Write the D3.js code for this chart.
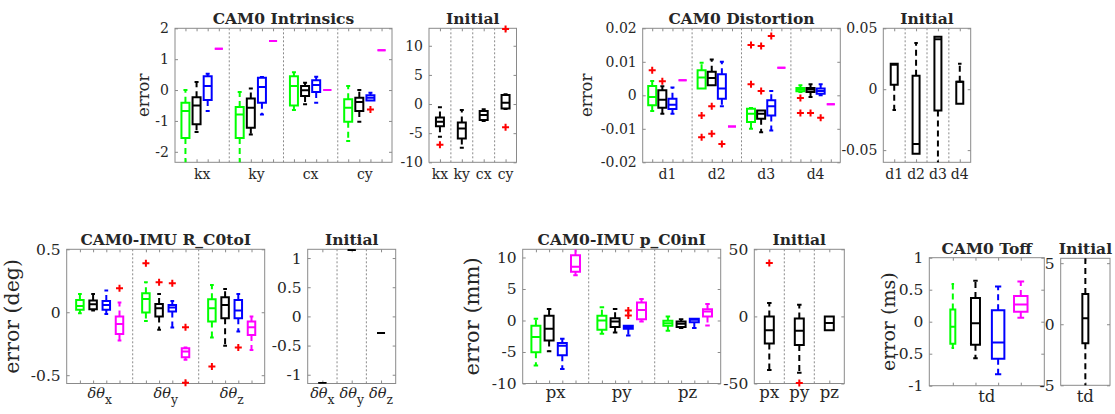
<!DOCTYPE html>
<html>
<head>
<meta charset="utf-8">
<script src="https://cdn.jsdelivr.net/npm/d3@7"></script>
<style>
body { margin: 0; background: #fff; }
svg text { font-family: "DejaVu Serif", serif; fill: #262626; }
</style>
</head>
<body>
<svg width="1115" height="414"></svg>
<script>
// every box is [lower whisker, q1, median, q3, upper whisker]
// outliers are [series index, category index, value]

let intrCats = ['kx', 'ky', 'cx', 'cy'];
let intrGreen = [[-2.6, -1.55, -0.68, -0.41, 0.0], [-2.5, -1.55, -0.79, -0.55, -0.06], [-0.65, -0.5, 0.13, 0.45, 0.58], [-1.65, -1.03, -0.57, -0.3, 0.13]];
let intrBlack = [[-1.36, -1.11, -0.5, -0.23, 0.26], [-1.44, -1.22, -0.57, -0.27, 0.05], [-0.46, -0.19, -0.01, 0.13, 0.24], [-1.03, -0.68, -0.39, -0.25, 0.0]];
let intrBlue = [[-0.68, -0.32, 0.13, 0.45, 0.53], [-0.79, -0.41, 0.1, 0.4, 0.42], [-0.41, -0.06, 0.16, 0.32, 0.43], [-0.34, -0.34, -0.25, -0.17, -0.09]];
let intrMagenta = [[1.34, 1.34, 1.34, 1.34, 1.34], [1.59, 1.59, 1.59, 1.59, 1.59], [0, 0, 0, 0, 0], [1.29, 1.29, 1.29, 1.29, 1.29]];
let intrOutliers = [[2, 3, -0.63]];
let intrTicks = [-2, -1, 0, 1, 2];

let intrInit = [[-5.6, -3.8, -3.05, -2.3, -0.57], [-7.5, -5.9, -4.2, -3.16, -1.03], [-2.9, -2.76, -1.9, -1.2, -0.9], [-0.86, -0.75, 0.2, 1.55, 1.67]];
let intrInitOutliers = [[0, 0, -7.0], [0, 3, 12.9], [0, 3, -4.0]];
let intrInitTicks = [-10, -5, 0, 5, 10];

let distCats = ['d1', 'd2', 'd3', 'd4'];
let distGreen = [[-0.0047, -0.003, -0.0005, 0.0028, 0.0043], [0.002, 0.002, 0.0053, 0.0075, 0.0097], [-0.01, -0.008, -0.0055, -0.004, -0.0038], [0.001, 0.0012, 0.0017, 0.0022, 0.003]];
let distBlack = [[-0.0055, -0.0037, -0.0013, 0.0015, 0.0027], [0.003, 0.003, 0.0052, 0.007, 0.0107], [-0.011, -0.007, -0.0055, -0.0045, -0.0045], [-0.0005, 0.001, 0.0017, 0.0022, 0.0033]];
let distBlue = [[-0.0055, -0.0041, -0.0028, -0.001, 0.0023], [-0.0033, -0.001, 0.002, 0.0063, 0.01], [-0.0105, -0.006, -0.0033, -0.0015, 0.0013], [0, 0.0005, 0.0013, 0.002, 0.0033]];
let distMagenta = [[0.0045, 0.0045, 0.0045, 0.0045, 0.0045], [-0.0093, -0.0093, -0.0093, -0.0093, -0.0093], [0.0082, 0.0082, 0.0082, 0.0082, 0.0082], [-0.0027, -0.0027, -0.0027, -0.0027, -0.0027]];
let distOutliers = [
  [0, 0, 0.0075], [0, 1, -0.006], [0, 1, -0.0125], [0, 2, 0.015], [0, 2, 0.0033], [0, 3, -0.0008], [0, 3, -0.0053],
  [1, 0, 0.0042], [1, 1, -0.0033], [1, 1, -0.0115], [1, 2, 0.0147], [1, 2, 0.0013], [1, 3, -0.0053],
  [2, 1, -0.0145], [2, 2, 0.0177], [2, 3, -0.0067]
];
let distTicks = [-0.02, -0.01, 0, 0.01, 0.02];

let distInit = [[-0.017, 0.0036, 0.02, 0.021, 0.021], [-0.053, -0.053, -0.045, 0.011, 0.038], [-0.07, -0.0175, 0.041, 0.043, 0.043], [-0.012, -0.012, 0.0062, 0.0062, 0.021]];
let distInitTicks = [-0.05, 0, 0.05];

let rotCats = ['x', 'y', 'z'];
let rotGreen = [[-0.008, 0.019, 0.05, 0.098, 0.145], [-0.069, -0.003, 0.106, 0.15, 0.238], [-0.2, -0.074, 0.032, 0.103, 0.217]];
let rotBlack = [[0.013, 0.024, 0.063, 0.093, 0.145], [-0.14, -0.034, 0.032, 0.066, 0.145], [-0.267, -0.048, 0.058, 0.119, 0.185]];
let rotBlue = [[-0.013, 0.019, 0.058, 0.09, 0.172], [-0.122, 0.005, 0.037, 0.058, 0.09], [-0.153, -0.048, 0.013, 0.098, 0.145]];
let rotMagenta = [[-0.225, -0.172, -0.093, -0.034, 0.077], [-0.378, -0.357, -0.312, -0.286, -0.28], [-0.3, -0.18, -0.119, -0.074, -0.034]];
let rotOutliers = [[0, 1, 0.389], [0, 2, -0.431], [1, 1, 0.238], [2, 1, 0.23], [2, 2, -0.28], [3, 0, 0.19], [3, 1, -0.119], [3, 1, -0.56]];
let rotTicks = [-0.5, 0, 0.5];

let rotInit = [[-1.14, -1.14, -1.14, -1.14, -1.14], [1.14, 1.14, 1.14, 1.14, 1.14], [-0.284, -0.284, -0.284, -0.284, -0.284]];
let rotInitTicks = [-1, -0.5, 0, 0.5, 1];

let posCats = ['px', 'py', 'pz'];
let posGreen = [[-7.16, -5.05, -2.63, -0.84, 0.26], [-2.1, -1.47, 0, 0.74, 2.1], [-1.63, -0.84, -0.42, -0.05, 0.63]];
let posBlack = [[-4.9, -3.16, -1.32, 0.74, 1.84], [-1.9, -1.05, -0.16, 0.37, 1.84], [-1.2, -1.05, -0.53, -0.16, 0.21]];
let posBlue = [[-7.7, -5.53, -4.0, -3.58, -2.9], [-2.37, -1.32, -1.05, -0.84, -0.84], [-1.2, -0.26, 0.1, 0.26, 0.26]];
let posMagenta = [[7.2, 7.74, 8.53, 10.37, 11.8], [-0.16, 0.21, 1.68, 2.84, 3.42], [-0.79, 0.63, 1.42, 1.79, 2.63]];
let posOutliers = [[2, 1, 1.6], [2, 1, 0.8]];
let posTicks = [-10, -5, 0, 5, 10];

let posInit = [[-40, -20.25, -10.25, 0, 10], [-42, -21.25, -10.75, -1.5, 8.75], [-10.25, -10.25, -5, 0, 0]];
let posInitOutliers = [[0, 0, 39.75], [0, 1, -49.6]];
let posInitTicks = [-50, 0, 50];

let toffCats = ['td'];
let toffGreen = [[-0.41, -0.345, -0.077, 0.19, 0.59]];
let toffBlack = [[-0.57, -0.36, -0.026, 0.37, 0.64]];
let toffBlue = [[-0.82, -0.58, -0.325, 0.18, 0.55]];
let toffMagenta = [[0.06, 0.155, 0.27, 0.4, 0.63]];
let toffTicks = [-1, -0.5, 0, 0.5, 1];

let toffInit = [[-5.2, -1.56, 0.49, 2.48, 5.6]];
let toffInitTicks = [-5, 0, 5];

const GREEN = '#00ff00', BLACK = '#000000', BLUE = '#0000ff', MAGENTA = '#ff00ff';

let svg = d3.select('svg');

function drawPanel(p) {
  let n = p.cats.length, ns = p.series.length;
  let x = d3.scaleLinear().domain([0, n]).range([p.left, p.right]);
  let y = d3.scaleLinear().domain(p.ylim).range([p.bottom, p.top]);
  let at = (ci, si) => ci + 0.5 + (si - (ns - 1) / 2) * p.step;

  let g = svg.append('g');
  let clipId = 'clip' + Math.round(p.left);
  g.append('clipPath').attr('id', clipId)
    .append('rect')
    .attr('x', p.left).attr('y', p.top)
    .attr('width', p.right - p.left).attr('height', p.bottom - p.top);

  // group separators
  for (let i = 1; i < n; i++) {
    g.append('line')
      .attr('x1', x(i)).attr('x2', x(i))
      .attr('y1', p.top).attr('y2', p.bottom)
      .attr('stroke', '#8a8a8a').attr('stroke-width', 1)
      .attr('stroke-dasharray', '2,2');
  }

  let boxTicks = [];
  p.cats.forEach((c, ci) => p.series.forEach((s, si) => boxTicks.push(at(ci, si))));

  let axes = [
    d3.axisBottom(x).tickValues(boxTicks).tickFormat(''),
    d3.axisTop(x).tickValues(boxTicks).tickFormat(''),
    d3.axisLeft(y).tickValues(p.yticks).tickFormat(d => String(d)),
    d3.axisRight(y).tickValues(p.yticks).tickFormat('')
  ];
  let tr = ['translate(0,' + p.bottom + ')', 'translate(0,' + p.top + ')',
            'translate(' + p.left + ',0)', 'translate(' + p.right + ',0)'];
  axes.forEach((ax, i) => {
    let a = g.append('g').attr('transform', tr[i])
      .call(ax.tickSizeInner(-3).tickSizeOuter(0).tickPadding(6));
    a.select('.domain').remove();
    a.selectAll('line').attr('stroke', '#8a8a8a');
    a.selectAll('text').attr('font-family', '"DejaVu Serif", serif')
      .attr('font-size', p.tickSize).attr('fill', '#262626');
  });

  g.append('rect')
    .attr('x', p.left).attr('y', p.top)
    .attr('width', p.right - p.left).attr('height', p.bottom - p.top)
    .attr('fill', 'none').attr('stroke', '#8a8a8a').attr('stroke-width', 1);

  let marks = g.append('g').attr('clip-path', 'url(#' + clipId + ')');
  p.series.forEach((s, si) => {
    s.stats.forEach((b, ci) => {
      let cx = x(at(ci, si));
      let w = Array.isArray(p.boxW) ? p.boxW[si] : p.boxW;
      let [lo, q1, med, q3, hi] = b;
      // whiskers
      [[q3, hi], [q1, lo]].forEach(([from, to]) => {
        if (from === to) return;
        marks.append('line')
          .attr('x1', cx).attr('x2', cx)
          .attr('y1', y(from)).attr('y2', y(to))
          .attr('stroke', s.color).attr('stroke-width', 2)
          .attr('stroke-dasharray', '6,4');
        marks.append('line')
          .attr('x1', cx - w / 4).attr('x2', cx + w / 4)
          .attr('y1', y(to)).attr('y2', y(to))
          .attr('stroke', s.color).attr('stroke-width', 2);
      });
      // box and median
      marks.append('path')
        .attr('d', 'M' + (cx - w / 2) + ',' + y(q1) + 'H' + (cx + w / 2) + 'V' + y(q3) + 'H' + (cx - w / 2) + 'Z')
        .attr('fill', 'none').attr('stroke', s.color).attr('stroke-width', 2);
      marks.append('line')
        .attr('x1', cx - w / 2).attr('x2', cx + w / 2)
        .attr('y1', y(med)).attr('y2', y(med))
        .attr('stroke', s.color).attr('stroke-width', 2);
    });
  });

  // outliers (not clipped, like matlab markers)
  (p.outliers || []).forEach(([si, ci, v]) => {
    let cx = x(at(ci, si)), cy = y(v);
    g.append('path')
      .attr('d', 'M' + (cx - 3.5) + ',' + cy + 'H' + (cx + 3.5) + 'M' + cx + ',' + (cy - 3.5) + 'V' + (cy + 3.5))
      .attr('stroke', '#ff0000').attr('stroke-width', 2);
  });

  // category labels
  p.cats.forEach((c, ci) => {
    let t = g.append('text')
      .attr('x', x(ci + 0.5)).attr('y', p.bottom + p.catDy)
      .attr('text-anchor', 'middle').attr('font-size', p.catSize);
    if (p.greek) {
      t.append('tspan').attr('font-style', 'italic').text('\u03b4\u03b8');
      t.append('tspan').attr('dy', 6).attr('font-size', p.catSize * 0.85).text(c);
    } else {
      t.text(c);
    }
  });

  g.append('text')
    .attr('x', (p.left + p.right) / 2).attr('y', p.top - 4)
    .attr('text-anchor', 'middle').attr('font-weight', 'bold')
    .attr('font-size', 15.5).text(p.title);

  if (p.ylabel) {
    g.append('text')
      .attr('transform', 'translate(' + p.ylabelX + ',' + (p.top + p.bottom) / 2 + ') rotate(-90)')
      .attr('text-anchor', 'middle').attr('dy', '0.35em')
      .attr('font-size', p.ylabelSize).text(p.ylabel);
  }
}

let four = stats => [GREEN, BLACK, BLUE, MAGENTA].map((c, i) => ({ color: c, stats: stats[i] }));
let one = stats => [{ color: BLACK, stats: stats }];

let row1 = { top: 28.3, bottom: 162.3, catDy: 17, catSize: 14, tickSize: 14 };
let row2 = { top: 249.3, bottom: 383.5, catDy: 14, catSize: 16.5, tickSize: 15.5 };

drawPanel(Object.assign({}, row1, {
  left: 175, right: 392, ylim: [-2.34, 2], yticks: intrTicks, cats: intrCats,
  series: four([intrGreen, intrBlack, intrBlue, intrMagenta]), outliers: intrOutliers,
  step: 0.205, boxW: 8, title: 'CAM0 Intrinsics', ylabel: 'error', ylabelX: 143, ylabelSize: 16.5
}));
drawPanel(Object.assign({}, row1, {
  left: 429, right: 516.5, ylim: [-10, 13], yticks: intrInitTicks, cats: intrCats,
  series: one(intrInit), outliers: intrInitOutliers, step: 0, boxW: 8, title: 'Initial'
}));
drawPanel(Object.assign({}, row1, {
  left: 642.7, right: 840.3, ylim: [-0.02, 0.02], yticks: distTicks, cats: distCats,
  series: four([distGreen, distBlack, distBlue, distMagenta]), outliers: distOutliers,
  step: 0.205, boxW: 8, title: 'CAM0 Distortion', ylabel: 'error', ylabelX: 586, ylabelSize: 16.5
}));
drawPanel(Object.assign({}, row1, {
  left: 883.3, right: 970.7, ylim: [-0.06, 0.05], yticks: distInitTicks, cats: distCats,
  series: one(distInit), step: 0, boxW: 7, title: 'Initial'
}));

drawPanel(Object.assign({}, row2, {
  left: 66.7, right: 264.7, ylim: [-0.566, 0.5], yticks: rotTicks, cats: rotCats, greek: true, catSize: 14.5,
  series: four([rotGreen, rotBlack, rotBlue, rotMagenta]), outliers: rotOutliers,
  step: 0.2, boxW: 7.5, title: 'CAM0-IMU R_C0toI', ylabel: 'error (deg)', ylabelX: 12, ylabelSize: 20.5
}));
drawPanel(Object.assign({}, row2, {
  left: 307.7, right: 395.7, ylim: [-1.15, 1.15], yticks: rotInitTicks, cats: rotCats, greek: true, catSize: 14.5,
  series: one(rotInit), step: 0, boxW: 8, title: 'Initial'
}));
drawPanel(Object.assign({}, row2, {
  left: 522.7, right: 720.7, ylim: [-10, 11.3], yticks: posTicks, cats: posCats,
  series: four([posGreen, posBlack, posBlue, posMagenta]), outliers: posOutliers,
  step: 0.2, boxW: 9, title: 'CAM0-IMU p_C0inI', ylabel: 'error (mm)', ylabelX: 472, ylabelSize: 21
}));
drawPanel(Object.assign({}, row2, {
  left: 754.3, right: 844.3, ylim: [-50, 50], yticks: posInitTicks, cats: posCats,
  series: one(posInit), outliers: posInitOutliers, step: 0, boxW: 9, title: 'Initial'
}));
drawPanel(Object.assign({}, row2, {
  top: 257.7, bottom: 385.7, catDy: 16,
  left: 929.3, right: 1044.3, ylim: [-1, 1], yticks: toffTicks, cats: toffCats,
  series: four([toffGreen, toffBlack, toffBlue, toffMagenta]),
  step: 0.197, boxW: [5, 9, 12.5, 13.5], title: 'CAM0 Toff', ylabel: 'error (ms)', ylabelX: 888, ylabelSize: 19
}));
drawPanel(Object.assign({}, row2, {
  top: 258.3, bottom: 385.3, catDy: 17,
  left: 1060.7, right: 1110, ylim: [-5, 5.4], yticks: toffInitTicks, cats: toffCats,
  series: one(toffInit), step: 0, boxW: 6, title: 'Initial'
}));
</script>
</body>
</html>
